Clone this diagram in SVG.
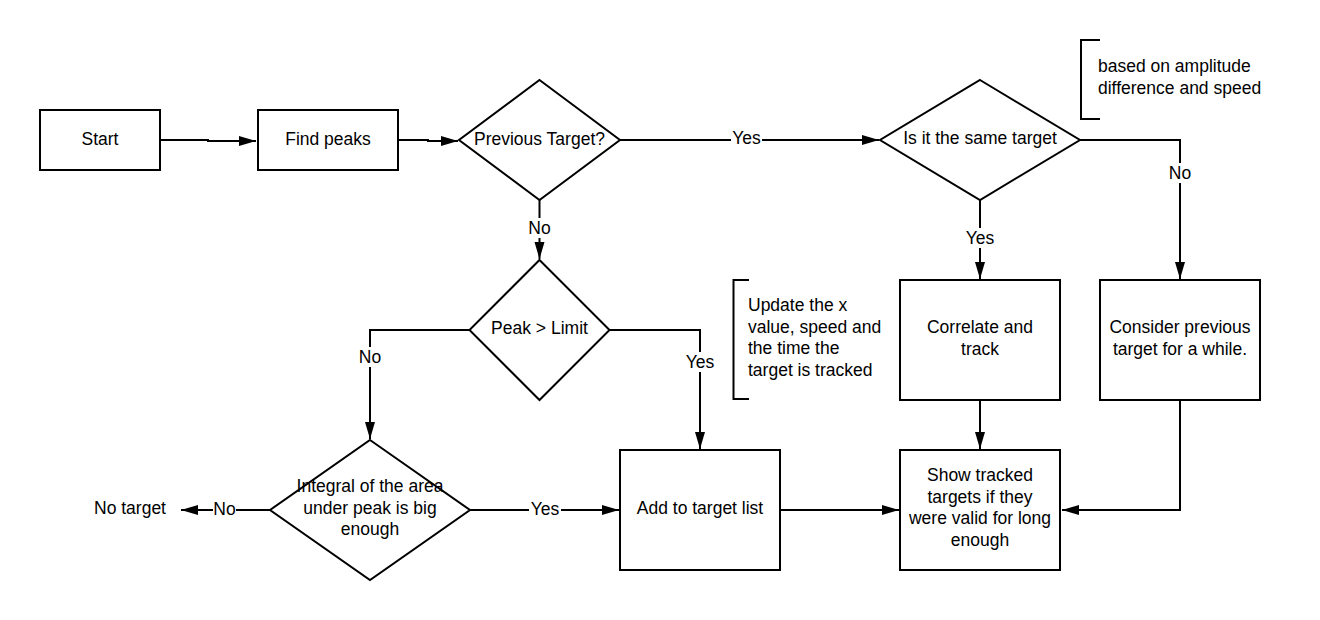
<svg xmlns="http://www.w3.org/2000/svg" width="1320" height="620" viewBox="0 0 1320 620">
<style>
.shape{fill:#fff;stroke:#000;stroke-width:2}
.t{font-family:"Liberation Sans",Arial,sans-serif;font-size:17.5px;fill:#000}
.c{text-anchor:middle}
.line{fill:none;stroke:#000;stroke-width:2}
.lbg{fill:#fff}
.br{fill:none;stroke:#000;stroke-width:2}
</style>
<defs>
<marker id="arr" markerUnits="userSpaceOnUse" markerWidth="18" markerHeight="12" refX="17" refY="6" orient="auto">
<path d="M0,1 L17,6 L0,11 z" fill="#000"/>
</marker>
</defs>
<rect width="1320" height="620" fill="#fff"/>
<g id="connectors">
<path class="line" d="M160,140 H208 V141 H256" marker-end="url(#arr)"/>
<path class="line" d="M398,140 H428 V141 H458" marker-end="url(#arr)"/>
<path class="line" d="M620,140 H879" marker-end="url(#arr)"/>
<path class="line" d="M1080,140 H1180 V279" marker-end="url(#arr)"/>
<path class="line" d="M980,200 V279" marker-end="url(#arr)"/>
<path class="line" d="M980,400 V449" marker-end="url(#arr)"/>
<path class="line" d="M1180,400 V510 H1062" marker-end="url(#arr)"/>
<path class="line" d="M780,510 H899" marker-end="url(#arr)"/>
<path class="line" d="M539.5,200 V259" marker-end="url(#arr)"/>
<path class="line" d="M469.5,330 H370 V439" marker-end="url(#arr)"/>
<path class="line" d="M609.5,330 H700 V449" marker-end="url(#arr)"/>
<path class="line" d="M470,510 H619" marker-end="url(#arr)"/>
<path class="line" d="M270,510 H181" marker-end="url(#arr)"/>
<rect class="lbg" x="731" y="129" width="31" height="20"/>
<text class="t c" x="746.5" y="144">Yes</text>
<rect class="lbg" x="528" y="218" width="23" height="20"/>
<text class="t c" x="539.5" y="234">No</text>
<rect class="lbg" x="1168" y="163" width="24" height="20"/>
<text class="t c" x="1180" y="179">No</text>
<rect class="lbg" x="964" y="228" width="32" height="20"/>
<text class="t c" x="980" y="244">Yes</text>
<rect class="lbg" x="358" y="347" width="24" height="20"/>
<text class="t c" x="370" y="363">No</text>
<rect class="lbg" x="684" y="352" width="32" height="20"/>
<text class="t c" x="700" y="368">Yes</text>
<rect class="lbg" x="529" y="500" width="32" height="20"/>
<text class="t c" x="545" y="515">Yes</text>
<rect class="lbg" x="213" y="500" width="23" height="20"/>
<text class="t c" x="224.5" y="515">No</text>
</g>
<g id="start">
<rect class="shape" x="40" y="110" width="120" height="60"/>
<text class="t c" x="100" y="145">Start</text>
</g>
<g id="find-peaks">
<rect class="shape" x="258" y="110" width="140" height="60"/>
<text class="t c" x="328" y="145">Find peaks</text>
</g>
<g id="previous-target">
<polygon class="shape" points="539.5,80 620,140 539.5,200 459,140"/>
<text class="t c" x="539.5" y="144.5">Previous Target?</text>
</g>
<g id="same-target">
<polygon class="shape" points="980,80 1080,140 980,200 880,140"/>
<text class="t c" x="980" y="143.5">Is it the same target</text>
</g>
<g id="note-amplitude">
<path class="br" d="M1100,40 H1081 V119 H1100"/>
<text class="t" x="1098" y="72">based on amplitude</text>
<text class="t" x="1098" y="93.5">difference and speed</text>
</g>
<g id="peak-limit">
<polygon class="shape" points="539.5,260 609.5,330 539.5,400 469.5,330"/>
<text class="t c" x="539.5" y="334">Peak &gt; Limit</text>
</g>
<g id="integral">
<polygon class="shape" points="370,440 470,510 370,580 270,510"/>
<text class="t c" x="370" y="492">Integral of the area</text>
<text class="t c" x="370" y="513.5">under peak is big</text>
<text class="t c" x="370" y="535">enough</text>
</g>
<g id="no-target">
<text class="t" x="94" y="514">No target</text>
</g>
<g id="add-target">
<rect class="shape" x="620" y="450" width="160" height="120"/>
<text class="t c" x="700" y="514">Add to target list</text>
</g>
<g id="note-update">
<path class="br" d="M749,280 H733.5 V399 H749"/>
<text class="t" x="748" y="311">Update the x</text>
<text class="t" x="748" y="332.5">value, speed and</text>
<text class="t" x="748" y="354">the time the</text>
<text class="t" x="748" y="375.5">target is tracked</text>
</g>
<g id="correlate">
<rect class="shape" x="900" y="280" width="160" height="120"/>
<text class="t c" x="980" y="333">Correlate and</text>
<text class="t c" x="980" y="354.5">track</text>
</g>
<g id="consider">
<rect class="shape" x="1100" y="280" width="160" height="120"/>
<text class="t c" x="1180" y="333">Consider previous</text>
<text class="t c" x="1180" y="354.5">target for a while.</text>
</g>
<g id="show-tracked">
<rect class="shape" x="900" y="450" width="160" height="120"/>
<text class="t c" x="980" y="481">Show tracked</text>
<text class="t c" x="980" y="502.5">targets if they</text>
<text class="t c" x="980" y="524">were valid for long</text>
<text class="t c" x="980" y="545.5">enough</text>
</g>
</svg>
